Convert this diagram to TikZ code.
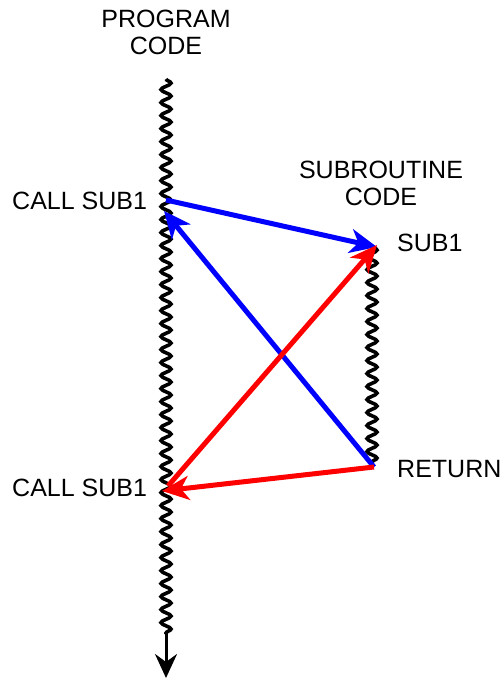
\documentclass[tikz,border=0pt]{standalone}
\usepackage{fontspec}
\setmainfont{Liberation Sans}
\usetikzlibrary{arrows.meta,decorations.pathmorphing}
\definecolor{myblue}{RGB}{0,0,255}
\definecolor{myred}{RGB}{255,0,0}
\begin{document}
\begin{tikzpicture}[x=1pt,y=-1pt,
  wave/.style={line width=3.6pt,decorate,decoration={snake,segment length=13pt,amplitude=5pt}},
  arr/.style={line width=5pt,-{Stealth[length=27pt,width=24pt,inset=8pt]}},
  lbl/.style={font=\fontsize{25}{27}\selectfont,inner sep=0pt,align=center}]
\useasboundingbox (0,0) rectangle (501,679);
\fill[white] (0,0) rectangle (501,679);
% program code
\coordinate (ptop) at (166,79);
\coordinate (pbot) at (166,634);
\coordinate (pend) at (166,678);
\draw[wave] (ptop) -- (pbot);
\draw[line width=3pt,-{Stealth[length=24pt,width=22pt,inset=8pt]}] (pbot) -- (pend);
% subroutine code
\coordinate (stop) at (372,246);
\coordinate (sbot) at (372,466);
\draw[wave] (stop) -- (sbot);
% labels
\node[lbl] (prog) at (166,32) {PROGRAM\\CODE};
\node[lbl] (subc) at (381,183) {SUBROUTINE\\CODE};
\node[lbl,anchor=west] (call1l) at (12,201) {CALL SUB1};
\node[lbl,anchor=west] (call2l) at (12,488) {CALL SUB1};
\node[lbl,anchor=west] (sub1l) at (397,243) {SUB1};
\node[lbl,anchor=west] (retl) at (397,469) {RETURN};
% connection points
\coordinate (c1) at (166,200);
\coordinate (c1b) at (164,211);
\coordinate (s1) at (377,247);
\coordinate (s1r) at (377,245);
\coordinate (r1) at (374,467);
\coordinate (c2) at (162,491);
\coordinate (c2b) at (168,486);
% arrows
\draw[arr,myblue] (c1) -- (s1);
\draw[arr,myblue] (r1) -- (c1b);
\draw[arr,myred] (r1) -- (c2);
\draw[arr,myred] (c2b) -- (s1r);
\end{tikzpicture}
\end{document}
